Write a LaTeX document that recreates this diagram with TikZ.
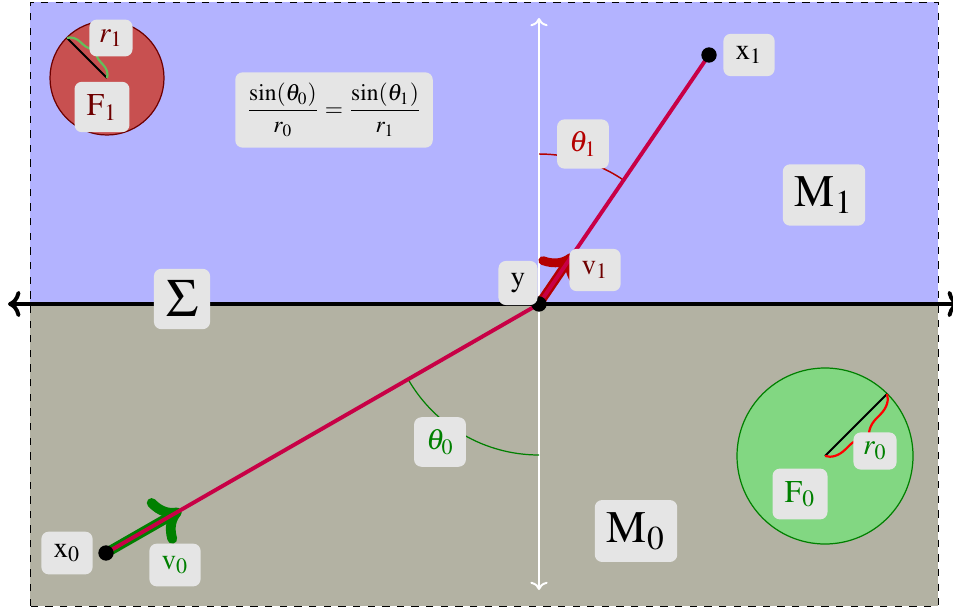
\documentclass[tikz,border=0pt]{standalone}
\usepackage{mathptmx}
\usetikzlibrary{decorations.pathreplacing,arrows.meta}
\definecolor{upc}{RGB}{179,179,255}
\definecolor{loc}{RGB}{179,178,163}
\definecolor{raycol}{RGB}{200,0,70}
\definecolor{fone}{RGB}{200,80,80}
\definecolor{fzero}{RGB}{130,215,130}
\definecolor{dgreen}{RGB}{0,128,0}
\definecolor{dred}{RGB}{180,0,0}
\definecolor{ddred}{RGB}{110,0,0}
\definecolor{lgreen}{RGB}{100,190,90}
\begin{document}
\begin{tikzpicture}[x=0.0144cm,y=0.0144cm,
  lab/.style={fill=gray!20, rounded corners=3pt, inner sep=5pt, font=\large},
  dotnode/.style={circle, fill=black, inner sep=0pt, minimum size=6.3pt},
  bigtip/.style={-{Computer Modern Rightarrow[length=11pt, width=21pt]}}]
\useasboundingbox (0,0) rectangle (953,608);
% media
\fill[upc] (30,304) rectangle (938,606);
\fill[loc] (30,2) rectangle (938,304);
\draw[dashed, thin] (30,2) rectangle (938,606);
% key points
\coordinate (X0) at (106,55);
\coordinate (Y) at (539,304);
\coordinate (X1) at (709,553);
\coordinate (axL) at (8,304);
\coordinate (axR) at (960,304);
\coordinate (vT) at (539,590);
\coordinate (vB) at (539,18);
\coordinate (v0end) at (181,98);
\coordinate (v1end) at (573,354);
% interface and normal
\draw[line width=1.6pt, <->] (axL) -- (axR);
\draw[white, line width=0.8pt, <->] (vB) -- (vT);
% angle arcs
\draw[dred, line width=0.6pt] ([shift={(90:150)}]Y) arc[start angle=90, end angle=55.7, radius=150];
\draw[dgreen, line width=0.5pt] ([shift={(270:151)}]Y) arc[start angle=270, end angle=209.9, radius=151];
% velocity arrows
\draw[dgreen, line width=4pt, bigtip] (X0) -- (v0end);
\draw[dred, line width=3.6pt, bigtip] (Y) -- (v1end);
% ray
\draw[raycol, line width=1.6pt] (X0) -- (Y) -- (X1);
\node[dotnode] (x0dot) at (X0) {};
\node[dotnode] (ydot) at (Y) {};
\node[dotnode] (x1dot) at (X1) {};
% F1 circle
\coordinate (F1c) at (107,530);
\coordinate (F1p) at (67,570);
\draw[fill=fone, draw=ddred, line width=0.5pt] (F1c) circle[radius=57];
\draw[black, line width=0.8pt] (F1p) -- (F1c);
\draw[lgreen, line width=0.9pt, decorate, decoration={brace, amplitude=5.5pt}] (F1p) -- (F1c);
% F0 circle
\coordinate (F0c) at (825,152);
\coordinate (F0p) at (887,214);
\draw[fill=fzero, draw=dgreen, line width=0.5pt] (F0c) circle[radius=88];
\draw[black, line width=0.8pt] (F0p) -- (F0c);
\draw[red, line width=0.9pt, decorate, decoration={brace, amplitude=8pt}] (F0p) -- (F0c);
% labels
\node[lab] (ylab) at (518,325) {$\mathrm{y}$};
\node[lab, text=ddred] (v1lab) at (595,338) {$\mathrm{v}_1$};
\node[lab] (x1lab) at (749,553) {$\mathrm{x}_1$};
\node[lab] (x0lab) at (67,55) {$\mathrm{x}_0$};
\node[lab, text=dgreen] (v0lab) at (175,43) {$\mathrm{v}_0$};
\node[lab, text=dred] (t1lab) at (583,464) {$\theta_1$};
\node[lab, text=dgreen] (t0lab) at (440,166) {$\theta_0$};
\node[lab, font=\fontsize{18.5}{22}\selectfont] (m1lab) at (824,413) {$\mathrm{M}_1$};
\node[lab, font=\fontsize{18.5}{22}\selectfont] (m0lab) at (636,77) {$\mathrm{M}_0$};
\node[lab, font=\fontsize{22}{26}\selectfont] (siglab) at (182,309) {$\Sigma$};
\node[lab, font=\fontsize{9.6}{11}\selectfont, inner sep=4.5pt] (eqlab) at (334,498) {$\displaystyle\frac{\sin(\theta_0)}{r_0}=\frac{\sin(\theta_1)}{r_1}$};
\node[lab, text=ddred, font=\fontsize{13}{15}\selectfont] (f1lab) at (102,501) {$\mathrm{F}_1$};
\node[lab, text=ddred, inner sep=4pt] (r1lab) at (111,570) {$r_1$};
\node[lab, text=dgreen, font=\fontsize{13}{15}\selectfont] (f0lab) at (800,114) {$\mathrm{F}_0$};
\node[lab, text=dgreen, inner sep=4pt] (r0lab) at (875,157) {$r_0$};
\end{tikzpicture}
\end{document}
